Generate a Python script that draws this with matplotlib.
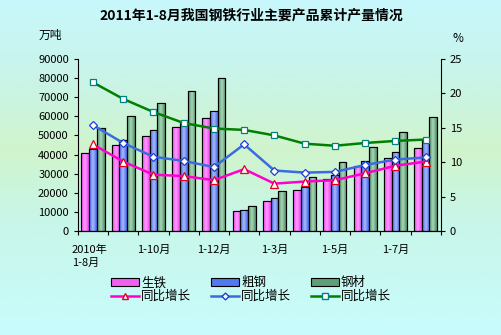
import numpy as np
import matplotlib
matplotlib.use("Agg")
import matplotlib.pyplot as plt
from matplotlib.lines import Line2D
from matplotlib.patches import Patch
from matplotlib.colors import LinearSegmentedColormap

plt.rcParams['font.family'] = ['Noto Sans CJK SC', 'DejaVu Sans']

# data
periods = ["2010年\n1-8月", "1-9月", "1-10月", "1-11月", "1-12月", "1-2月",
           "1-3月", "1-4月", "1-5月", "1-6月", "1-7月", "1-8月"]
shown = [0, 2, 4, 6, 8, 10]
pig_iron = [40600, 44800, 49700, 54200, 59000, 10300, 15500, 21400, 27200, 34000, 38200, 43400]
crude_steel = [42900, 47400, 52800, 56300, 62800, 11300, 17300, 22900, 29300, 36800, 41300, 47600]
steel_prod = [53700, 60000, 67000, 73200, 79900, 13100, 20900, 28200, 36100, 44000, 51800, 59700]
pig_yoy = [12.6, 10.1, 8.2, 8.0, 7.4, 9.0, 6.9, 7.2, 7.4, 8.4, 9.5, 10.1]
crude_yoy = [15.4, 12.8, 10.8, 10.2, 9.3, 12.6, 8.8, 8.5, 8.6, 9.6, 10.4, 10.7]
steel_yoy = [21.6, 19.2, 17.3, 15.7, 14.9, 14.7, 13.9, 12.7, 12.4, 12.8, 13.1, 13.3]


def grad_bars(ax, xs, hs, w, dark, light):
    cmap = LinearSegmentedColormap.from_list("g", [dark, light, dark])
    bars = ax.bar(xs, hs, w, color=dark, edgecolor="black", linewidth=0.8, zorder=2)
    grad = np.linspace(0, 1, 64).reshape(1, -1)
    for b in bars:
        x0, y0 = b.get_x(), b.get_y()
        im = ax.imshow(grad, cmap=cmap, aspect="auto", zorder=2.1,
                       extent=[x0, x0 + b.get_width(), y0, y0 + b.get_height()])
        im.set_clip_path(b)
    ax.bar(xs, hs, w, fill=False, edgecolor="black", linewidth=0.8, zorder=2.2)


fig = plt.figure(figsize=(5.02, 3.35), dpi=100)

# background gradient
bg = fig.add_axes([0, 0, 1, 1], zorder=-10)
bgmap = LinearSegmentedColormap.from_list(
    "bg", [(0, "#c8fcfc"), (0.35, "#c8f6e8"), (0.55, "#d0f4cc"), (0.8, "#c8f4ec"), (1, "#c8f8fc")])
bg.imshow(np.linspace(1, 0, 256).reshape(-1, 1), cmap=bgmap, aspect="auto", extent=[0, 1, 0, 1])
bg.axis("off")

ax = fig.add_axes([0.155, 0.310, 0.723, 0.514])
ax.patch.set_alpha(0)
x = np.arange(len(periods))
w = 0.255
grad_bars(ax, x - w, pig_iron, w, "#f040f0", "#ff9cff")
grad_bars(ax, x, crude_steel, w, "#4068e8", "#a8b8ff")
grad_bars(ax, x + w, steel_prod, w, "#4e8c64", "#a8d8b8")

ax.set_xlim(-0.5, len(periods) - 0.5)
ax.set_ylim(0, 90000)
ax.set_yticks(np.arange(0, 90001, 10000))
ax.set_xticks(np.arange(-0.5, len(periods), 1))
ax.set_xticklabels([])
ax.tick_params(axis="x", length=3, direction="out", width=0.8)
ax.tick_params(axis="y", length=3, direction="out", labelsize=8, width=0.8)
for s in ["top", "right"]:
    ax.spines[s].set_visible(False)
for i in shown:
    xpos = x[i] - 0.7 if i == 0 else x[i]
    ax.text(xpos, -0.08, periods[i], transform=ax.get_xaxis_transform(),
            ha="left" if i == 0 else "center", va="top", fontsize=8, linespacing=1.3)

ax2 = ax.twinx()
ax2.set_ylim(0, 25)
ax2.set_yticks(np.arange(0, 26, 5))
ax2.tick_params(axis="y", length=3, direction="out", labelsize=8, width=0.8)
for s in ["top", "left"]:
    ax2.spines[s].set_visible(False)
ax2.plot(x, pig_yoy, color="#ff00cc", lw=1.8, marker="^", ms=5.5,
         mfc="white", mec="#e00020", mew=0.9, zorder=5)
ax2.plot(x, crude_yoy, color="#3a6ce0", lw=1.8, marker="D", ms=4,
         mfc="white", mec="#2040d0", mew=0.9, zorder=5)
ax2.plot(x, steel_yoy, color="#008000", lw=1.8, marker="s", ms=5,
         mfc="white", mec="#008080", mew=0.9, zorder=5)

fig.text(0.5, 0.952, "2011年1-8月我国钢铁行业主要产品累计产量情况", ha="center",
         va="center", fontsize=10, fontweight="bold")
fig.text(0.10, 0.893, "万吨", ha="center", va="center", fontsize=8.5)
fig.text(0.913, 0.886, "%", ha="center", va="center", fontsize=8.5)

handles = [
    Patch(facecolor="#f060f0", edgecolor="black", lw=0.8),
    Line2D([], [], color="#ff00cc", lw=1.8, marker="^", ms=5, mfc="white", mec="#e00020"),
    Patch(facecolor="#5078f0", edgecolor="black", lw=0.8),
    Line2D([], [], color="#3a6ce0", lw=1.8, marker="D", ms=3.5, mfc="white", mec="#2040d0"),
    Patch(facecolor="#5e9e78", edgecolor="black", lw=0.8),
    Line2D([], [], color="#008000", lw=1.8, marker="s", ms=4.5, mfc="white", mec="#008080"),
]
labels = ["生铁", "同比增长", "粗钢", "同比增长", "钢材", "同比增长"]
fig.legend(handles, labels, ncol=3, loc="center", bbox_to_anchor=(0.5, 0.135),
           frameon=False, fontsize=9, handlelength=2.2, handleheight=0.5,
           handletextpad=0.2, columnspacing=1.6, labelspacing=0.05)

fig.savefig("out.png", dpi=100)
